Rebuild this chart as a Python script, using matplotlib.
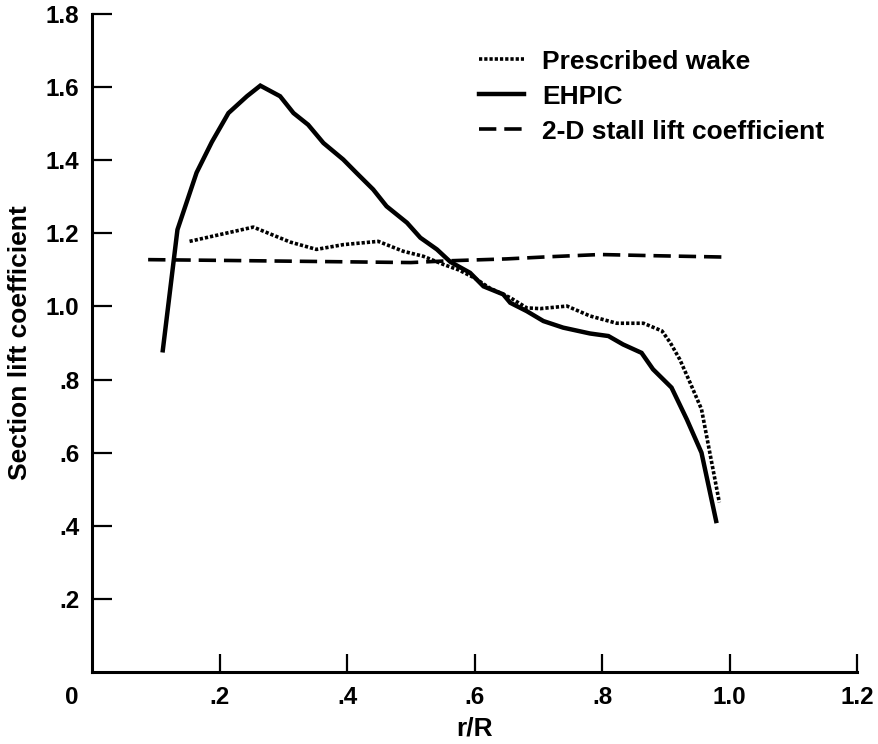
import matplotlib
matplotlib.use("Agg")
import matplotlib.pyplot as plt

plt.rcParams['font.family'] = ['Liberation Sans', 'DejaVu Sans']
plt.rcParams['font.weight'] = 'bold'

# EHPIC (solid)
ehpic_x = [0.111, 0.134, 0.164, 0.188, 0.214, 0.243, 0.264, 0.295, 0.316, 0.339,
           0.363, 0.394, 0.415, 0.441, 0.462, 0.494, 0.515, 0.541, 0.562, 0.593,
           0.614, 0.645, 0.656, 0.682, 0.708, 0.739, 0.781, 0.810, 0.833, 0.862,
           0.880, 0.909, 0.933, 0.956, 0.979]
ehpic_y = [0.88, 1.21, 1.366, 1.45, 1.529, 1.575, 1.604, 1.575, 1.529, 1.497,
           1.447, 1.402, 1.365, 1.32, 1.274, 1.229, 1.188, 1.156, 1.122, 1.092,
           1.055, 1.033, 1.01, 0.987, 0.960, 0.942, 0.926, 0.919, 0.896, 0.873,
           0.828, 0.778, 0.691, 0.600, 0.413]

# prescribed wake (dotted)
wake_x = [0.153, 0.253, 0.311, 0.352, 0.394, 0.449, 0.488, 0.520, 0.551, 0.575,
          0.600, 0.624, 0.656, 0.682, 0.703, 0.745, 0.781, 0.823, 0.865, 0.894,
          0.907, 0.922, 0.938, 0.956, 0.964, 0.975, 0.984]
wake_y = [1.178, 1.217, 1.176, 1.156, 1.169, 1.178, 1.151, 1.137, 1.115, 1.10,
          1.078, 1.050, 1.024, 0.996, 0.994, 1.001, 0.974, 0.954, 0.954, 0.933,
          0.901, 0.855, 0.792, 0.719, 0.646, 0.546, 0.464]

# 2-D stall lift coefficient (dashed)
stall_x = [0.088, 0.2, 0.3, 0.4, 0.5, 0.562, 0.65, 0.718, 0.797, 0.875, 0.993]
stall_y = [1.128, 1.126, 1.124, 1.122, 1.120, 1.125, 1.130, 1.136, 1.142, 1.139, 1.135]

xticks = [0.2, 0.4, 0.6, 0.8, 1.0, 1.2]
xlabels = ['.2', '.4', '.6', '.8', '1.0', '1.2']
yticks = [0.2, 0.4, 0.6, 0.8, 1.0, 1.2, 1.4, 1.6, 1.8]
ylabels = ['.2', '.4', '.6', '.8', '1.0', '1.2', '1.4', '1.6', '1.8']

fig = plt.figure(figsize=(8.79, 7.44), dpi=100)
ax = fig.add_axes([0.1047, 0.0968, 0.8703, 0.8844])

ax.plot(wake_x, wake_y, color='black', lw=2.6, linestyle=(0, (0.9, 0.55)),
        label='Prescribed wake')
ax.plot(ehpic_x, ehpic_y, color='black', lw=3.2, solid_joinstyle='miter',
        label='EHPIC')
ax.plot(stall_x, stall_y, color='black', lw=2.6, linestyle=(0, (4.8, 2.2)),
        label='2-D stall lift coefficient')

ax.set_xlim(0, 1.2)
ax.set_ylim(0, 1.8)
ax.set_xticks(xticks)
ax.set_xticklabels(xlabels)
ax.set_yticks(yticks)
ax.set_yticklabels(ylabels)

for s in ['top', 'right']:
    ax.spines[s].set_visible(False)
for s in ['left', 'bottom']:
    ax.spines[s].set_linewidth(2.2)

ax.tick_params(axis='y', direction='in', length=14.5, width=1.6, pad=9, labelsize=17.5)
ax.tick_params(axis='x', direction='in', length=13, width=1.6, pad=10, labelsize=17.5)

# corner zero label
ax.annotate('0', xy=(0, 0), xycoords='data', xytext=(-14.5, -10),
            textcoords='offset points', ha='center', va='top', fontsize=17.5,
            fontweight='bold')

ax.set_xlabel('r/R', fontsize=19, fontweight='bold')
ax.set_ylabel('Section lift coefficient', fontsize=19, fontweight='bold')
ax.xaxis.set_label_coords(0.5, -0.068)
ax.yaxis.set_label_coords(-0.078, 0.5)

ax.legend(loc='upper left', bbox_to_anchor=(0.506, 0.946), frameon=False,
          fontsize=19, handlelength=1.7, handletextpad=0.7,
          labelspacing=0.42, borderpad=0, borderaxespad=0)

fig.savefig('out.png', dpi=100)
